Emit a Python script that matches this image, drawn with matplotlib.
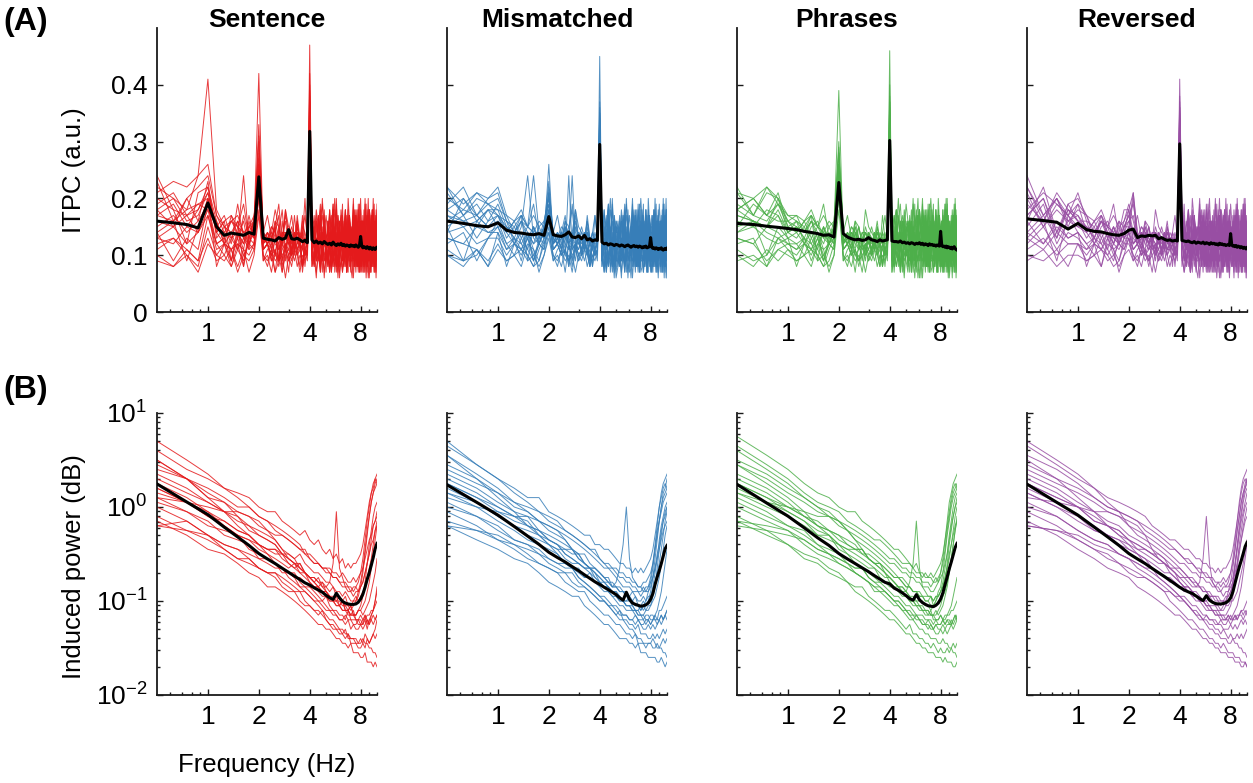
import numpy as np
import matplotlib
matplotlib.use("Agg")
import matplotlib.pyplot as plt
from matplotlib.ticker import FixedLocator, NullFormatter, LogLocator

plt.rcParams['font.family'] = ['Liberation Sans', 'DejaVu Sans']
plt.rcParams['mathtext.fontset'] = 'custom'
plt.rcParams['mathtext.rm'] = 'Liberation Sans'
plt.rcParams['mathtext.it'] = 'Liberation Sans:italic'
plt.rcParams['mathtext.bf'] = 'Liberation Sans:bold'

# ------------------------------------------------------------------ data
CONDITIONS = ["Sentence", "Mismatched", "Phrases", "Reversed"]
COLORS = ["#e41a1c", "#377eb8", "#4daf4a", "#984ea3"]

FREQ_ITPC = np.arange(0.5, 10.0 + 1e-9, 0.125)   # 77 frequency bins
FREQ_POW = np.arange(0.5, 10.0 + 1e-9, 0.25)     # 39 frequency bins

XTICKS = [1, 2, 4, 8]
XTICK_LABELS = ["1", "2", "4", "8"]
XMINOR = [0.6, 0.7, 0.8, 0.9, 3, 5, 6, 7, 9, 10]
ITPC_YTICKS = [0, 0.1, 0.2, 0.3, 0.4]
ITPC_YTICK_LABELS = ["0", "0.1", "0.2", "0.3", "0.4"]
POW_YTICKS = [1e-2, 1e-1, 1e0, 1e1]

# group-mean ITPC (black lines), one value per FREQ_ITPC bin
ITPC_MEAN_SENTENCE = [
    .160, .157, .154, .148,
    .192,
    .150, .135, .139, .137, .135, .140, .137,
    .238,
    .130, .128, .127, .125, .131, .128, .130, .145, .129, .128, .130, .127, .124, .126, .122,
    .318,
    .127, .122, .125, .121, .123, .120, .124, .121,
    .119, .121, .118, .123, .119, .117, .120, .118,
    .121, .117, .119, .116, .118, .117, .115, .118,
    .116, .117, .115, .118, .116, .114, .117, .133,
    .116, .113, .115, .114, .112, .115, .113, .111,
    .114, .112, .110, .113, .112, .110, .113, .114,
]
ITPC_MEAN_MISMATCHED = [
    .160, .156, .152, .150,
    .157,
    .144, .140, .139, .137, .136, .138, .135,
    .168,
    .136, .134, .133, .136, .141, .132, .131, .134, .129, .135, .127, .129, .125, .127, .126,
    .295,
    .123, .120, .121, .118, .120, .119, .117, .119,
    .118, .116, .118, .117, .115, .117, .118, .116,
    .114, .116, .117, .115, .116, .114, .116, .115,
    .113, .115, .114, .116, .113, .114, .115, .131,
    .114, .112, .113, .111, .113, .112, .110, .112,
    .111, .113, .110, .109, .111, .112, .110, .112,
]
ITPC_MEAN_PHRASES = [
    .156, .154, .151, .149,
    .147,
    .145, .142, .140, .138, .135, .136, .132,
    .228,
    .138, .132, .129, .127, .128, .126, .127, .131, .127, .126, .124, .127, .125, .126, .127,
    .302,
    .125, .124, .124, .123, .125, .122, .123, .121,
    .122, .120, .122, .121, .119, .121, .120, .122,
    .119, .121, .118, .120, .119, .117, .120, .118,
    .119, .117, .118, .116, .118, .117, .116, .142,
    .117, .115, .116, .114, .116, .113, .115, .114,
    .112, .114, .111, .113, .115, .112, .110, .109,
]
ITPC_MEAN_REVERSED = [
    .164, .161, .158, .146,
    .156,
    .145, .142, .141, .138, .136, .135, .138,
    .144,
    .146, .131, .134, .133, .135, .134, .135, .129, .131, .128, .126, .127, .125, .126, .125,
    .296,
    .126, .125, .124, .125, .123, .122, .124, .121,
    .123, .122, .121, .123, .120, .122, .121, .119,
    .122, .120, .121, .119, .120, .118, .121, .119,
    .120, .118, .119, .117, .118, .119, .117, .138,
    .118, .116, .117, .115, .117, .114, .116, .115,
    .113, .115, .114, .112, .114, .113, .111, .113,
]

# single-subject ITPC, one character per FREQ_ITPC bin (value = code/100,
# code = position in ALPHABET); spaces only group the bins for readability
ALPHABET = "0123456789abcdefghijklmnopqrstuvwxyzABCDEFGHIJKLMNOPQRSTUVWXYZ"

ITPC_SUBJ_SENTENCE = [
    "gfhe k ec9dgbh n bc9aeib7 dagcfec L c8gbe9ic a7dgb9fc e9bhc7ga dbf8cie9 b7gdaech 9cfb8gda",
    "mkio q hfeg8fe x dcfe9dhe bcfd8ba A eb9hcdf7 gca8eib9 dfbg7chb aeid9fc8 cg7beadi b9fcg8ec",
    "98a7 c a9b7a9b i 9a7b9a6a 8ba7a9b u 8a6c9b7a 9d7a8b6c a79c7ab8 6b9a8d7a 9c7b6a9b 7a8c9a6b",
    "jlhi l fhdgeed q cedf9dbe hdecbdc C fbd9gcea 8eci7dbg ce9bhdaf dj8cbfe9 ag9edbhc 8dfbc9gd",
    "e9db j cdbc8dg m bca79gbd aeb8cab p a8cb7d9b 9b7ec8ab c9a8dba7 b8ea9c7d 8cb9a7eb a9d8cb7c",
    "hgij k fedecfg s dceifcec dbhdcdc x dhbfjcgd eibgdkcf hcfibegd fkdhcjeb gdichfkd ehcgjdfc",
    "lnmo F ifghefh r edfeceed fdechdc E cgadhbec 9fcida8g dbge9hcf ahdb8fci ec9gbdha fbi9cedg",
    "cdb9 h bc8bdbc o 9bcaf7ab acbd8bc s b9dac7eb c8bfa9db a7eb9dc8 dbag8ec9 b9cfa8db c7dbe9ab",
    "fheg n dfcjdcf G cdbeh9cb dced7bd G edbhcfa9 dg8ebjcf beci9dga fc8hdbge ahcd9fbi dbgc8eha",
    "ikgh l eghdoce u dc9dbcid cedbc8c y cfbdi9ec gbeac8hd dj9cfbea bfdhca8g ecgb9ifc a8dhcebf",
    "bda8 f acb8bac k a9b7cab9 bcab8b9 r 9b7a8c6b a8d9b7a9 8b9a7c8a b6a9d8b7 a9c7b8a6 9b8a7d9a",
    "oicl m gchfdeg p decfjced bhcdcdc z fdhcgjeb cidfkbhe gdbifche eifcdhgk dgcjebfi hcekdgfb",
    "dfce i cd9ebgd n bcadc8ca b9bcgab q bcad8ecb 9dbgac7e cb8eadb9 adbc9gca 8ecbda9d cbae7dbf",
    "hjfi m eg9fecf p cdecbdgc 9bcedcc v dbegc9hd ecadifb8 dhbec9ge bfdai8ec gcbe9dhb ecigd8fc",
    "kihj i fdgechd q ecdf9edc bedcdkc B edgcfhdb gcejdbfe cgdfbice fdhcg9eb dgecjbfd ehbdgcif",
    "eg9f k 8cbdacb l bcab8bca bdacbab w a9cb8dab 8bca9eb7 cadb8cb9 9dbca7eb ba8dcb9c 7cadb9ab",
    "ifkg j gcebhdf o cebgdc9e dbfcead t ce9dgbfa dbh8ecga cfbd9ehb adgc8fbe gbdaech9 cfa9dgbe",
    "a8b9 d 9a8cb7a h a8b9a7b9 ab8a9ba q 8b9a7c9a b7a9c8b6 9a8c7b9a a9b7d8a9 7c9a8b6a b8a9c7b9",
    "ngkm o hegfjdg v ehdgfcif edgcehd D gdifckeh dhfjcgeb ifdhbkgd ehcifdjc gfdkehbi dgicfhej",
    "dcfe h cadb9dc m bcda9cbe adbc8db s bdac9ecb da8cfbd9 ecbd9ahc bd9ecadg cb8fdaec 9dcbe8da",
]
ITPC_SUBJ_MISMATCHED = [
    "hfgi h fd9ecdf j dcebdocd ecb9cec J a7dgb9fc c8gbe9ic dbf8cie9 e9bhc7ga 9cfb8gda b7gdaech",
    "mjlk l gehfoed q cedf8dbe dcedbhd x gca8eib9 eb9hcdf7 aeid9fc8 dfbg7chb b9fcg8ec cg7beadi",
    "a9b8 b 9ab9a8a d 9a8b9a7a 9ba8a9b r 9d7a8b6c 8a6c9b7a 6b9a8d7a a79c7ab8 7a8c9a6b 9c7b6a9b",
    "ekgi i egh9fce l dcehbcfd ced9cdc B 8eci7dbg fbd9gcea dj8cbfe9 ce9bhdaf 8dfbc9gd ag9edbhc",
    "ce9d f bdca8bd g bcab9cgd acb8cab u 9b7ec8ab a8cb7d9b b8ea9c7d c9a8dba7 a9d8cb7c 8cb9a7eb",
    "kilj k gfhfegf n dcedficc dbe9cdc A eibgdkcf dhbfjcgd fkdhcjeb hcfibegd ehcgjdfc gdichfkd",
    "gihf g ecfodce i cdbec9cb dchdcbd w 9fcida8g cgadhbec ahdb8fci dbge9hcf fbi9cedg ec9gbdha",
    "dcb8 e bcad9cb f 9bcaobca acb8abc s c8bfa9db b9dac7eb dbag8ec9 a7eb9dc8 c7dbe9ab b9cfa8db",
    "jmhk m hgifhfg k edfeceid fdecedc y dg8ebjcf edbhcfa9 fc8hdbge beci9dga dbgc8eha ahcd9fbi",
    "fhdg h dfce9cf h cdbecdcb dcgdcbd v gbeac8hd cfbdi9ec bfdhca8g dj9cfbea a8dhcebf ecgb9ifc",
    "b9ad d acba89c e a9b7cab9 bcab8b9 p a8d9b7a9 9b7a8c6b b6a9d8b7 8b9a7c8a 9b8a7d9a a9c7b8a6",
    "lhjg j fegdfce l decfdjed becdcdc y cidfkbhe fdhcgjeb eifcdhgk gdbifche hcekdgfb dgcjebfi",
    "efcd g cdbeb9d i bcadc8ca b9bcbab t 9dbgac7e bcad8ecb adbc9gca cb8eadb9 cbae7dbf 8ecbda9d",
    "ikhj h egdfecf j cdecbdhc dbc9dcc u ecadifb8 dbegc9hd bfdai8ec dhbec9ge ecigd8fc gcbe9dhb",
    "hgfi f fdgecfd m ecdfcedc bedcdbc z gcejdbfe edgcfhdb fdhcg9eb cgdfbice ehbdgcif dgecjbfd",
    "f9ge e 8cbdacb h bcab8bca bdacbab u 8bca9eb7 a9cb8dab 9dbca7eb cadb8cb9 7cadb9ab ba8dcb9c",
    "ighf h gcebfdf i cebgdc9e dbfcead t dbh8ecga ce9dgbfa adgc8fbe cfbd9ehb cfa9dgbe gbdaech9",
    "a8b9 c 9a8cb7a e a8b9a7b9 ab8a9ba q b7a9c8b6 8b9a7c9a a9b7d8a9 9a8c7b9a b8a9c7b9 7c9a8b6a",
    "mhkj i hegfjdg k ehdgfcif edgcehd z dhfjcgeb gdifckeh ehcifdjc ifdhbkgd dgicfhej gfdkehbi",
    "dcfe f cadb9dc g bcda9cbe adbc8db r da8cfbd9 bdac9ecb bd9ecadg ecbd9ahc 9dcbe8da cb8fdaec",
]
ITPC_SUBJ_PHRASES = [
    "hgfi e fd9cedf D cedbfcad bec9cec K 9cfb8gda b7gdaech dbf8cie9 e9bhc7ga a7dgb9fc c8gbe9ic",
    "lkmj h gehfdec s dcfecdbe dcfdcba A b9fcg8ec cg7beadi aeid9fc8 dfbg7chb gca8eib9 eb9hcdf7",
    "9a8b a 9ab9a8a m 9a8b9a7a 9ba8a9b r 7a8c9a6b 9c7b6a9b 6b9a8d7a a79c7ab8 9d7a8b6c 8a6c9b7a",
    "fjhg g egh9fce p dcedbcfd cedbhdc E 8dfbc9gd ag9edbhc dj8cbfe9 ce9bhdaf 8eci7dbg fbd9gcea",
    "dc9b c bdca8bd n bcab9cbd acb8cab t a9d8cb7c 8cb9a7eb b8ea9c7d c9a8dba7 9b7ec8ab a8cb7d9b",
    "ikhl f gfhfegf q dcedfcec dbedcdc z ehcgjdfc gdichfkd fkdhcjeb hcfibegd eibgdkcf dhbfjcgd",
    "gfih d ecfgdce p cdbec9cb dcedcbd x fbi9cedg ec9gbdha ahdb8fci dbge9hcf 9fcida8g cgadhbec",
    "cd8d c bcad9cb o 9bcabcab acbd8bc s c7dbe9ab b9cfa8db dbag8ec9 a7eb9dc8 c8bfa9db b9dac7eb",
    "jhmk h hgifhfg s edfeceed fdecedc C dbgc8eha ahcd9fbi fc8hdbge beci9dga dg8ebjcf edbhcfa9",
    "fged e dfce9cf q cdbecdcb dcedc8d v a8dhcebf ecgb9ifc bfdhca8g dj9cfbea gbeac8hd cfbdi9ec",
    "b9ad b acba89c k a9b7cab9 bcab8b9 q 9b8a7d9a a9c7b8a6 b6a9d8b7 8b9a7c8a a8d9b7a9 9b7a8c6b",
    "lhgj g fegdfce u decfdced becdcdc B hcekdgfb dgcjebfi eifcdhgk gdbifche cidfkbhe fdhcgjeb",
    "efdc d cdbebcd n bcadcbca b9bcbab u cbae7dbf 8ecbda9d adbc9gca cb8eadb9 9dbgac7e bcad8ecb",
    "ikhj f egdfecf o cdecbdec dbcedcc y ecigd8fc gcbe9dhb bfdai8ec dhbec9ge ecadifb8 dbegc9hd",
    "hgfk e fdgecfd p ecdfcedc bedcdbc w ehbdgcif dgecjbfd fdhcg9eb cgdfbice gcejdbfe edgcfhdb",
    "egaf d 8cbdacb l bcab8bca bdacbab r 7cadb9ab ba8dcb9c 9dbca7eb cadb8cb9 8bca9eb7 a9cb8dab",
    "igfh e gcebfdf q cebgdc9e dbfcead v cfa9dgbe gbdaech9 adgc8fbe cfbd9ehb dbh8ecga ce9dgbfa",
    "a8b9 b 9a8cb7a i a8b9a7b9 ab8a9ba s b8a9c7b9 7c9a8b6a a9b7d8a9 9a8c7b9a b7a9c8b6 8b9a7c9a",
    "mhlk g hegfjdg t ehdgfcif edgcehd B dgicfhej gfdkehbi ehcifdjc ifdhbkgd dhfjcgeb gdifckeh",
    "dcfe c cadb9dc n bcda9cbe adbc8db t 9dcbe8da cb8fdaec bd9ecadg ecbd9ahc da8cfbd9 bdac9ecb",
]
ITPC_SUBJ_REVERSED = [
    "kfig h fdhecgd f ldcbfcad becdcec F e9bhc7ga dbf8cie9 b7gdaech 9cfb8gda c8gbe9ic a7dgb9fc",
    "gmej k hdgfcei i cdfecdbe dcfdcba y dfbg7chb aeid9fc8 cg7beadi b9fcg8ec eb9hcdf7 gca8eib9",
    "9b8a a 9ab9a8a b 9a8b9a7a 9ba8a9b r a79c7ab8 6b9a8d7a 9c7b6a9b 7a8c9a6b 8a6c9b7a 9d7a8b6c",
    "ohkf j eghdfce g ecedbcfd cedbcdc C ce9bhdaf dj8cbfe9 ag9edbhc 8dfbc9gd fbd9gcea 8eci7dbg",
    "cfbe d bdcacbd e kcab9cbd acbbcab t c9a8dba7 b8ea9c7d 8cb9a7eb a9d8cb7c a8cb7d9b 9b7ec8ab",
    "iljh l gfhfegf h dcedfcec dbedcdc A hcfibegd fkdhcjeb gdichfkd ehcgjdfc dhbfjcgd eibgdkcf",
    "fjcg f ecfgdce e cdbecdcb dcedcbd w dbge9hcf ahdb8fci ec9gbdha fbi9cedg cgadhbec 9fcida8g",
    "dbec c bc8dbcb d 9bcabcab acbdabc s a7eb9dc8 dbag8ec9 b9cfa8db c7dbe9ab b9dac7eb c8bfa9db",
    "mhkg i hgifhfg j gdfeceed fdecedc z beci9dga fc8hdbge ahcd9fbi dbgc8eha edbhcfa9 dg8ebjcf",
    "ehdj g dfcedcf f cdbecdcb dcedc8d v dj9cfbea bfdhca8g ecgb9ifc a8dhcebf cfbdi9ec gbeac8hd",
    "bdac c acba89c c a9bacab9 bcabab9 q 8b9a7c8a b6a9d8b7 a9c7b8a6 9b8a7d9a 9b7a8c6b a8d9b7a9",
    "jgli g fegdfce i lecfdced becdcdc B gdbifche eifcdhgk dgcjebfi hcekdgfb fdhcgjeb cidfkbhe",
    "gcfd e cdbeb9d d bcadcbca b9bcbab u cb8eadb9 adbc9gca 8ecbda9d cbae7dbf bcad8ecb 9dbgac7e",
    "hkei h egdfecf g hdecbdec dbcedcc y dhbec9ge bfdai8ec gcbe9dhb ecigd8fc dbegc9hd ecadifb8",
    "lfjh f fdgecfd f ecdfcedc bedcdbc w cgdfbice fdhcg9eb dgecjbfd ehbdgcif edgcfhdb gcejdbfe",
    "dg9h e 8cbdacb e bcab8bca bdacbab r cadb8cb9 9dbca7eb ba8dcb9c 7cadb9ab a9cb8dab 8bca9eb7",
    "hkdi g gcebfdf h jebgdc9e dbfcead u cfbd9ehb adgc8fbe gbdaech9 cfa9dgbe ce9dgbfa dbh8ecga",
    "a9b8 c 9a8cb7a d a8b9a7b9 ab8a9ba q 9a8c7b9a a9b7d8a9 7c9a8b6a b8a9c7b9 8b9a7c9a b7a9c8b6",
    "mgkh j hegfjdg i ehdgfcif edgcehd A ifdhbkgd ehcifdjc gfdkehbi dgicfhej gdifckeh dhfjcgeb",
    "ecgd e cadb9dc e bcda9cbe adbc8db s ecbd9ahc bd9ecadg cb8fdaec 9dcbe8da bdac9ecb da8cfbd9",
]

# group-mean induced power (black lines), one value per FREQ_POW bin
POW_MEAN_SENTENCE = [
    1.76, 1.13, 0.83, 0.61, 0.48, 0.39,
    0.32, 0.28, 0.25, 0.223, 0.202, 0.184, 0.169, 0.156,
    0.148, 0.138, 0.131, 0.124, 0.115, 0.108, 0.104, 0.121,
    0.108, 0.099, 0.095, 0.093, 0.092, 0.092, 0.093, 0.097,
    0.105, 0.118, 0.14, 0.17, 0.2, 0.24, 0.29, 0.36, 0.41,
]
POW_MEAN_MISMATCHED = [
    1.72, 1.12, 0.82, 0.62, 0.49, 0.40,
    0.33, 0.29, 0.26, 0.232, 0.21, 0.19, 0.174, 0.16,
    0.15, 0.14, 0.132, 0.124, 0.117, 0.108, 0.102, 0.124,
    0.104, 0.095, 0.092, 0.09, 0.088, 0.089, 0.091, 0.095,
    0.104, 0.12, 0.15, 0.18, 0.21, 0.25, 0.3, 0.36, 0.39,
]
POW_MEAN_PHRASES = [
    1.74, 1.1, 0.8, 0.6, 0.47, 0.39,
    0.32, 0.28, 0.25, 0.225, 0.205, 0.186, 0.171, 0.158,
    0.152, 0.137, 0.13, 0.122, 0.114, 0.106, 0.102, 0.117,
    0.103, 0.096, 0.092, 0.089, 0.088, 0.087, 0.09, 0.095,
    0.105, 0.122, 0.15, 0.18, 0.22, 0.26, 0.31, 0.37, 0.41,
]
POW_MEAN_REVERSED = [
    1.75, 1.12, 0.82, 0.61, 0.48, 0.39,
    0.32, 0.28, 0.25, 0.222, 0.2, 0.182, 0.166, 0.152,
    0.14, 0.131, 0.125, 0.12, 0.113, 0.106, 0.101, 0.114,
    0.102, 0.097, 0.094, 0.093, 0.093, 0.094, 0.096, 0.1,
    0.108, 0.125, 0.155, 0.19, 0.23, 0.27, 0.32, 0.38, 0.42,
]

# single-subject induced power, one character per FREQ_POW bin
# (value = 10 ** (code / 20 - 2), code = position in ALPHABET)
POW_SUBJ_SENTENCE = [
    "QM KIHG EDDBAzyz xwxvuvtu strsrsst uwzCFHIKJ",
    "LI FDCz yxwutssq ponomllk kjjihigg gfhfghikm",
    "HF CBzy wvvtsrsq ppoonmnl lkljjkkl nquyCFHJK",
    "EB ywvt rqqonmmk jihigffe edecccbb cbdcbcdcd",
    "JG DBzy wvuusrqq popnnosD rpnmmlmm noqsuwxzA",
    "Cz xvts rqpnmmkj jiihgfee ddcdbbba abacbcdeg",
    "MK GFDC Azyyxwvu tssrrrqq pqpoopop qrtvxyABC",
    "GD Azyv utsrqqon nmlkljii hhgigggf ffgegghgh",
    "IF DAyx vutsrsqp onnmmlkk jkiijhhi ihijkmoqt",
    "OK HFCA yxwutsrq pponmlkl jkiijhhi ijkmoruxA",
    "By vusq pnnmlkji hgffeedc cbbab999 889777676",
    "KH FDBA zyxvutus rqqpoonm mlmlkklk lmnprtwzB",
    "FD Byxw ttsqqpnn mlkkjiih ggfgefee fefgfhikn",
    "NK IGEE CBzyxwvv tssrqqpp onnnmnno qtxBEHJKL",
    "SO LIGE CBAzyxwu utsrrqpp ooonnmnm noqsuxABD",
    "AB yvtt rqqponmm lkkjiihh gghggffg fghgfgfgh",
    "GF EDDC Bzxvtsrq ponmlkkj jiihhhhi jloswzCEF",
    "Az ywvu tsrrqppo nnmllkkj jiiihhgg hgghhiijk",
    "OK GDAy wusrponm lkjihggf eeddcccb bcbbaa998",
    "IF CAyx wvvuutrq onnmmlkk lkjjijkm orvzCFHIJ",
]
POW_SUBJ_MISMATCHED = [
    "RN KIGG DCBAzyyw wvvutssr rqrqrqrs tvyBEGIJI",
    "KH ECAz xwutsrrp oonmmlkj jjihhghh gghikmpsv",
    "IF CAzy wvtssrqp onnmllkk kjiijijk mptxBEHIK",
    "DA xwus rqonmmkj ihhgffed dcdbbbab baababcbc",
    "JG ECBy xwutsrrq poonorwE tponnmnn oprtvxzAB",
    "FC zxwu srqqonml kkjihigg ffefdddc cdcdcdede",
    "NK HFED BAzyxwvv tssrrqqp poonnoop qsvyBDFGH",
    "HE Bzxw vusrrpqo nmmlkjji iihgggfg fggfghghi",
    "LI FDCz yxwvtsrr qppnnmml lkljjkjk lnqtxACEF",
    "PL IFDB zyxvuusr qponnmml kkjjijij jklnpsvyA",
    "Ax vtsq onmlljih gffedccc bbab9998 888778767",
    "JG DBAz xwvvtsrr qpoonnmm lmlkklkl lmoqsvyBD",
    "EC Axwv tsrrponm llkjjihh ggfgfeef efefgfghg",
    "MJ HEDB Azyxwvut srrqponn nmmmlmmn pswAEHJKL",
    "SN KHFD CBzyxwvu tsrrqppo onnmmnmm npruwzBCE",
    "Az xvts rqqonnml kkjjihhh gghgffgg fghgghghi",
    "GE DCCB Azxvusrq ponmlkkj jiihhhii jlnrvyBDE",
    "Bz ywvu tssrqppo onmllkkj jiiihhgg hhggiijkl",
    "PK GDAy wusrponm lkjihggf eedccbbb bcbaaa998",
    "HF CAyx wvvuusrq onnmmlkk lkjjijkm orvzBEGHI",
]
POW_SUBJ_PHRASES = [
    "TP MJHG EDDBAzyx wvvutsrs qqppqpqr suxADGIJI",
    "LI FCBz xwvvtsrq ponnmlkk jjiihhih ijlnqtwzC",
    "HE CAyy vutsrrpo onmmlkjj iihhiggg hghhijlnp",
    "Cz wutr qonnlkji ihgfefdd ccbbaba9 a99a9abab",
    "IF DBzy wvutsrqp ponnmosB rnmllkll mnpruwyAB",
    "GD Azwu tsqponmm lkkjihhg gffefedd ededefefg",
    "OL IGED BAzyxwvu ttsrrqqp pooonoop qsvzCFHIJ",
    "FC Aywv usrrpoon mllkjjih hhgggfgf fgfggfghg",
    "KH ECAz ywvvtssr qpponnmm llkkljkl moruyBEGH",
    "QM JGEC Azxwvuts rqpponmm llkkjjjk klmoqtwzB",
    "By wtsq pomlkjih ggfeddcb baa99988 878777667",
    "JG ECAz yxwutssr qpponnmm mllllkll mnprtwzCE",
    "EB zxvu srqponnm lkkjiihh ggffeefe efeffgfgh",
    "NK HFDC Bzyxwvut ssrqqppo onnnmmno qtxBFHJKL",
    "RN KHFE DBAzyxxw vutsssrq qpqppopo pqsuxACEG",
    "BA zwut srqpomml kjjiihgh gffgfeff fgfgffghg",
    "HF EDCC Bzxvtsrq ponmlkkj jiihhhhi jloswzCEF",
    "Az yxvu tsrrqpoo nnmllkkj jiiihhgg hgghhiijk",
    "NJ GDAy wusrponm lkjihggf eeddcccb bcbbaa998",
    "JG DByx wvvuutsq onnmmllk kkjjijkm nquyBEGHI",
]
POW_SUBJ_REVERSED = [
    "RN KIGF EDCAzyxx wvvuttss rrqrqrrs tvyBEHJKJ",
    "KH EBAz xvutssqp onmmlkkj iihhhggh ghijlnqtw",
    "HE Bzyx vutsrqqp onnmllkk jjjiiijk loswADGIK",
    "DA xvus qpponmkj ihggfeed ccbbaba9 998887776",
    "JG ECAz xwvutsrq pponnotC sonmmlmm noqsvxzBC",
    "FC zxwu trqponml lkjiihgg ffeededc dccdcdcde",
    "NK IGED CBzyxwvv utssrrqq ppooopop qsvzCFHJK",
    "HE Czyw vutrqpoo nmmlkkji iihhgggh gghghihih",
    "LI FDBA yxwvutsr rqpponnm mllkkkkl morvzCFHI",
    "PM JGED Ayxwvuts rqpoonmm llkkjkjj kklmoqsvx",
    "By vtrq pnmlkjih hgfeedcc bbaa9998 887776676",
    "JG EBAy xwvutsrr qpponnmm llllkkll mnpruxACE",
    "EC zxwu tsrqponm llkjjihh ggfffeee fefefgfgf",
    "MJ HFDC BAyxwvut ssrqqppo onnnmnno qtxBFIKLM",
    "SO LIFD CBAzyxwv uttsrqqp ponononn opsvyBDFH",
    "Az xvts rqponmml kkjihhgh gggfgffg fghghhghi",
    "GF EDDC Azyvtsrq ponmlkkj jiihhhhi jloswzCEF",
    "Az ywvu tsrrqppo nnmllkkj jiiihhgg hgghhiijk",
    "OK GDAy wusrponm lkjihggf eeddcccb bcbbaa998",
    "IF CAyx wvvuutrq onnmmlkk lkjjijkm orvzCFHIJ",
]

ITPC_MEANS = [ITPC_MEAN_SENTENCE, ITPC_MEAN_MISMATCHED, ITPC_MEAN_PHRASES, ITPC_MEAN_REVERSED]
ITPC_SUBJ = [ITPC_SUBJ_SENTENCE, ITPC_SUBJ_MISMATCHED, ITPC_SUBJ_PHRASES, ITPC_SUBJ_REVERSED]
POW_MEANS = [POW_MEAN_SENTENCE, POW_MEAN_MISMATCHED, POW_MEAN_PHRASES, POW_MEAN_REVERSED]
POW_SUBJ = [POW_SUBJ_SENTENCE, POW_SUBJ_MISMATCHED, POW_SUBJ_PHRASES, POW_SUBJ_REVERSED]


def codes(s):
    return np.array([ALPHABET.index(c) for c in s.replace(" ", "")], dtype=float)


def itpc_values(s):
    return codes(s)[:len(FREQ_ITPC)] / 100.0


def pow_values(s):
    return 10.0 ** (codes(s)[:len(FREQ_POW)] / 20.0 - 2.0)


# ------------------------------------------------------------------ layout
W, H = 1253, 783
fig = plt.figure(figsize=(W / 100, H / 100), dpi=100)

COL_LEFT_PX = [157, 447, 737, 1027]
AX_W_PX = 220
ROW_A = (28, 312)     # top, bottom in px
ROW_B = (413, 695)

TICK_FS = 19
LABEL_FS = 18.5
TITLE_FS = 19
SUBJ_LW = 0.7


def make_ax(left_px, row):
    top, bot = row
    return fig.add_axes([left_px / W, 1 - bot / H, AX_W_PX / W, (bot - top) / H])


def style_common(ax, show_ylabels):
    for side in ("top", "right"):
        ax.spines[side].set_visible(False)
    for side in ("left", "bottom"):
        ax.spines[side].set_linewidth(1.3)
        ax.spines[side].set_color("#1a1a1a")
    ax.set_xscale("log")
    ax.set_xlim(0.5, 10)
    ax.xaxis.set_major_locator(FixedLocator(XTICKS))
    ax.set_xticklabels(XTICK_LABELS)
    ax.xaxis.set_minor_locator(FixedLocator(XMINOR))
    ax.xaxis.set_minor_formatter(NullFormatter())
    ax.tick_params(which="both", direction="in", top=False, right=False,
                   width=1.0, color="#1a1a1a", labelsize=TICK_FS, pad=7)
    ax.tick_params(which="major", length=4.5)
    ax.tick_params(which="minor", length=2.5)
    if not show_ylabels:
        ax.tick_params(axis="y", which="both", labelleft=False)


for i, cond in enumerate(CONDITIONS):
    color = COLORS[i]

    # ---- ITPC row
    ax = make_ax(COL_LEFT_PX[i], ROW_A)
    for s in ITPC_SUBJ[i]:
        v = itpc_values(s)
        ax.plot(FREQ_ITPC[:len(v)], v, color=color, lw=SUBJ_LW, alpha=0.85, zorder=2)
    m = np.array(ITPC_MEANS[i])
    ax.plot(FREQ_ITPC[:len(m)], m, color="black", lw=2.2, zorder=3)
    style_common(ax, i == 0)
    ax.set_ylim(0, 0.5)
    ax.set_yticks(ITPC_YTICKS)
    if i == 0:
        ax.set_yticklabels(ITPC_YTICK_LABELS)
        ax.set_ylabel("ITPC (a.u.)", fontsize=LABEL_FS)
        ax.yaxis.set_label_coords(-0.325, 0.5)
    ax.text(0.5, 1.0035, cond, transform=ax.transAxes, ha="center", va="baseline",
            fontsize=TITLE_FS, fontweight="bold")

    # ---- induced power row
    bx = make_ax(COL_LEFT_PX[i], ROW_B)
    for s in POW_SUBJ[i]:
        v = pow_values(s)
        bx.plot(FREQ_POW[:len(v)], v, color=color, lw=SUBJ_LW, alpha=0.85, zorder=2)
    m = np.array(POW_MEANS[i])
    bx.plot(FREQ_POW[:len(m)], m, color="black", lw=2.2, zorder=3)
    bx.set_yscale("log")
    style_common(bx, i == 0)
    bx.set_ylim(1e-2, 1e1)
    bx.yaxis.set_major_locator(FixedLocator(POW_YTICKS))
    bx.yaxis.set_minor_locator(LogLocator(base=10, subs=np.arange(2, 10) * 1.0, numticks=20))
    bx.yaxis.set_minor_formatter(NullFormatter())
    if i == 0:
        bx.set_ylabel("Induced power (dB)", fontsize=LABEL_FS)
        bx.yaxis.set_label_coords(-0.325, 0.455)
        bx.tick_params(axis="y", which="both", labelleft=True)
    else:
        bx.tick_params(axis="y", which="both", labelleft=False)

fig.text(3 / W, 1 - 30 / H, "(A)", fontsize=23, fontweight="bold", ha="left", va="baseline")
fig.text(3 / W, 1 - 398 / H, "(B)", fontsize=23, fontweight="bold", ha="left", va="baseline")
fig.text(267 / W, 1 - 772 / H, "Frequency (Hz)", fontsize=LABEL_FS, ha="center", va="baseline")

fig.savefig("out.png", dpi=100)
